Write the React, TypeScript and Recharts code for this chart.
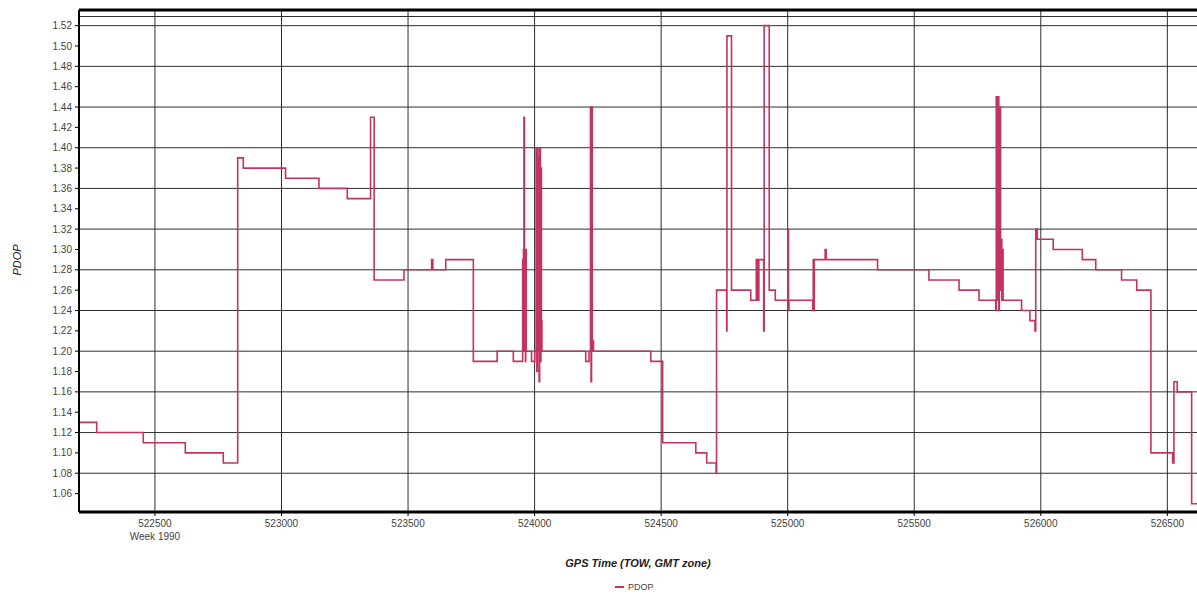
import React from 'react';
import {
  LineChart,
  Line,
  XAxis,
  YAxis,
  CartesianGrid,
  ReferenceLine,
  Legend,
} from 'recharts';

// GPS time of week (s) where the PDOP value changes, and the value held from there on
const towSeconds = [
  522200, 522270, 522454, 522620, 522770, 522827, 522849, 523016, 523148, 523260,
  523352, 523366, 523484, 523593, 523598, 523649, 523758, 523852, 523916,
  523953, 523955, 523956, 523958, 523960, 523962, 523964, 523965, 523967,
  523988, 524001,
  524006, 524009, 524011, 524013, 524015, 524018, 524020, 524023, 524025, 524027, 524029,
  524202, 524215, 524221, 524223, 524225, 524228, 524230, 524233,
  524459, 524506, 524637, 524680, 524717, 524719, 524759, 524760, 524778,
  524854, 524876, 524878, 524881, 524883, 524886,
  524905, 524907, 524927, 524951, 525001, 525003, 525005,
  525099, 525101, 525103, 525105, 525148, 525152,
  525355, 525558, 525677, 525756, 525822,
  525824, 525827, 525829, 525831, 525834, 525836, 525838, 525841, 525843, 525846, 525848, 525851,
  525924, 525957, 525977, 525980, 525986, 526049, 526164, 526217, 526319, 526379,
  526435, 526521, 526526, 526539, 526596, 526660,
];

const pdopValues = [
  1.13, 1.12, 1.11, 1.1, 1.09, 1.39, 1.38, 1.37, 1.36, 1.35,
  1.43, 1.27, 1.28, 1.29, 1.28, 1.29, 1.19, 1.2, 1.19,
  1.29, 1.2, 1.3, 1.43, 1.2, 1.29, 1.19, 1.3, 1.2,
  1.19, 1.2,
  1.4, 1.18, 1.4, 1.2, 1.39, 1.17, 1.4, 1.19, 1.38, 1.23, 1.2,
  1.19, 1.2, 1.44, 1.17, 1.44, 1.2, 1.21, 1.2,
  1.19, 1.11, 1.1, 1.09, 1.08, 1.26, 1.22, 1.51, 1.26,
  1.25, 1.29, 1.25, 1.29, 1.25, 1.29,
  1.22, 1.52, 1.26, 1.25, 1.32, 1.24, 1.25,
  1.24, 1.29, 1.24, 1.29, 1.3, 1.29,
  1.28, 1.27, 1.26, 1.25, 1.24,
  1.45, 1.25, 1.31, 1.45, 1.24, 1.31, 1.44, 1.26, 1.31, 1.25, 1.3, 1.25,
  1.24, 1.23, 1.22, 1.32, 1.31, 1.3, 1.29, 1.28, 1.27, 1.26,
  1.1, 1.09, 1.17, 1.16, 1.05, 1.05,
];

const towTicks = [522500, 523000, 523500, 524000, 524500, 525000, 525500, 526000, 526500];
const pdopTicks = [
  1.06, 1.08, 1.1, 1.12, 1.14, 1.16, 1.18, 1.2, 1.22, 1.24, 1.26, 1.28,
  1.3, 1.32, 1.34, 1.36, 1.38, 1.4, 1.42, 1.44, 1.46, 1.48, 1.5, 1.52,
];
const weekTick = 522500;
const weekLabel = 'Week 1990';

const data = towSeconds.map((tow, i) => ({ tow, pdop: pdopValues[i] }));

const FONT = '"Liberation Sans", Arial, sans-serif';
const LINE_COLOR = '#c2345f';
const GRID_COLOR = '#2e2e2e';
const Y_TOP = 1.5354;

const TowTick = (props: any) => {
  const { x, y, payload } = props;
  return (
    <g>
      <text x={x} y={y} dy="0.71em" textAnchor="middle" fontSize={10} fontFamily={FONT} fill="#444">
        {payload.value}
      </text>
      {payload.value === weekTick && (
        <text x={x} y={y + 13} dy="0.71em" textAnchor="middle" fontSize={10} fontFamily={FONT} fill="#444">
          {weekLabel}
        </text>
      )}
    </g>
  );
};

const PdopLegend = () => (
  <div
    style={{
      display: 'flex',
      alignItems: 'center',
      height: 18,
      paddingLeft: 615,
      fontFamily: FONT,
      fontSize: 9,
      color: '#444',
    }}
  >
    <svg width={9} height={4} style={{ marginRight: 4 }}>
      <line x1={0} y1={2} x2={9} y2={2} stroke={LINE_COLOR} strokeWidth={2} />
    </svg>
    <span>PDOP</span>
  </div>
);

const App: React.FC = () => {
  return (
    <div
      style={{
        position: 'absolute',
        left: 0,
        top: 0,
        width: 1197,
        height: 596,
        overflow: 'hidden',
        background: '#fff',
      }}
    >
      <LineChart width={1240} height={596} data={data} margin={{ top: 10, right: 20, left: 0, bottom: 0 }}>
        <CartesianGrid stroke={GRID_COLOR} strokeWidth={1} />
        <XAxis
          dataKey="tow"
          type="number"
          domain={[522200, 526708]}
          ticks={towTicks}
          allowDataOverflow
          height={66}
          tickSize={4}
          tickMargin={4}
          tick={<TowTick />}
          axisLine={{ stroke: '#000', strokeWidth: 3 }}
          tickLine={{ stroke: '#000' }}
          label={() => (
            <text
              x={638}
              y={567}
              textAnchor="middle"
              fontFamily={FONT}
              fontSize={11}
              fontWeight="bold"
              fontStyle="italic"
              fill="#222"
            >
              GPS Time (TOW, GMT zone)
            </text>
          )}
        />
        <YAxis
          type="number"
          domain={[1.0419, Y_TOP]}
          ticks={pdopTicks}
          allowDataOverflow
          width={79}
          tickSize={4}
          tickMargin={3}
          tickFormatter={(v: number) => v.toFixed(2)}
          tick={{ fontSize: 10, fontFamily: FONT, fill: '#444' }}
          axisLine={{ stroke: '#000', strokeWidth: 2 }}
          tickLine={{ stroke: '#000' }}
          label={() => (
            <text
              x={21}
              y={260}
              transform="rotate(-90, 21, 260)"
              textAnchor="middle"
              fontFamily={FONT}
              fontSize={11}
              fontStyle="italic"
              fill="#222"
            >
              PDOP
            </text>
          )}
        />
        <ReferenceLine y={1.529} stroke={GRID_COLOR} strokeWidth={1} />
        <ReferenceLine y={Y_TOP} stroke="#000" strokeWidth={3} />
        <Legend verticalAlign="bottom" height={18} content={<PdopLegend />} />
        <Line
          type="stepAfter"
          dataKey="pdop"
          name="PDOP"
          stroke={LINE_COLOR}
          strokeWidth={1.6}
          dot={false}
          activeDot={false}
          isAnimationActive={false}
        />
      </LineChart>
    </div>
  );
};

export default App;
